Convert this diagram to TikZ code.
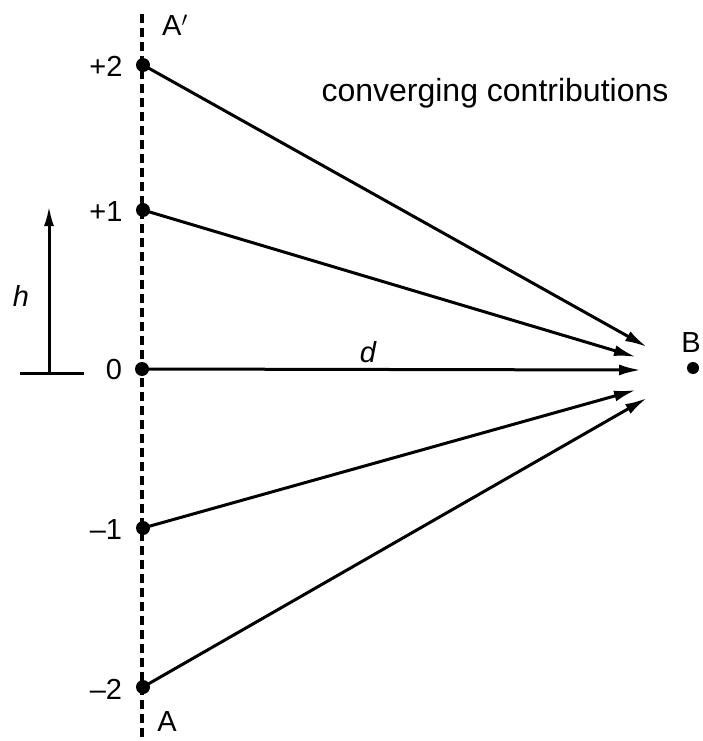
\documentclass[tikz,border=0pt]{standalone}
\usepackage{fontspec}
\setmainfont{Liberation Sans}
\usetikzlibrary{arrows.meta}
\begin{document}
\begin{tikzpicture}[x=1pt,y=-1pt,
  lbl/.style={font=\fontsize{29}{34}\selectfont, inner sep=0pt},
  ray/.style={line width=3pt, -{Latex[length=22pt,width=11pt]}},
  pt/.style={circle, fill=black, minimum size=14pt, inner sep=0pt}]
\useasboundingbox (0,0) rectangle (702,741);
\draw[line width=3.2pt, dash pattern=on 9pt off 5pt] (142,14) -- (142,741);
\node[pt] (p2) at (143,65) {};
\node[pt] (p1) at (143,210) {};
\node[pt] (p0) at (142,369) {};
\node[pt] (m1) at (143,528) {};
\node[pt] (m2) at (143,687) {};
\coordinate (t2) at (647,347);
\coordinate (t1) at (636,357);
\coordinate (t0) at (641,370);
\coordinate (tm1) at (636,390);
\coordinate (tm2) at (647,398);
\draw[ray] (p2.center) -- (t2);
\draw[ray] (p1.center) -- (t1);
\draw[ray] (p0.center) -- (t0);
\draw[ray] (m1.center) -- (tm1);
\draw[ray] (m2.center) -- (tm2);
\node[pt, minimum size=12pt] (B) at (693,368) {};
\node[lbl] (Bl) at (691,343) {B};
\node[lbl] at (106,66) {+2};
\node[lbl] at (106,212) {+1};
\node[lbl] at (114,370) {0};
\node[lbl] at (106,530) {\textendash1};
\node[lbl] at (106,689) {\textendash2};
\node[lbl] at (175,25) {A$'$};
\node[lbl] at (167,722) {A};
\node[lbl] at (368,352) {\itshape d};
\node[lbl] at (21,296) {\itshape h};
\node[lbl, font=\fontsize{32}{38}\selectfont] at (495,93) {converging contributions};
\coordinate (hl) at (20,373);
\coordinate (hr) at (84,373);
\coordinate (hb) at (49,373);
\coordinate (ht) at (49,206);
\draw[line width=3pt] (hl) -- (hr);
\draw[line width=3pt, -{Latex[length=20pt,width=10pt]}] (hb) -- (ht);
\end{tikzpicture}
\end{document}
